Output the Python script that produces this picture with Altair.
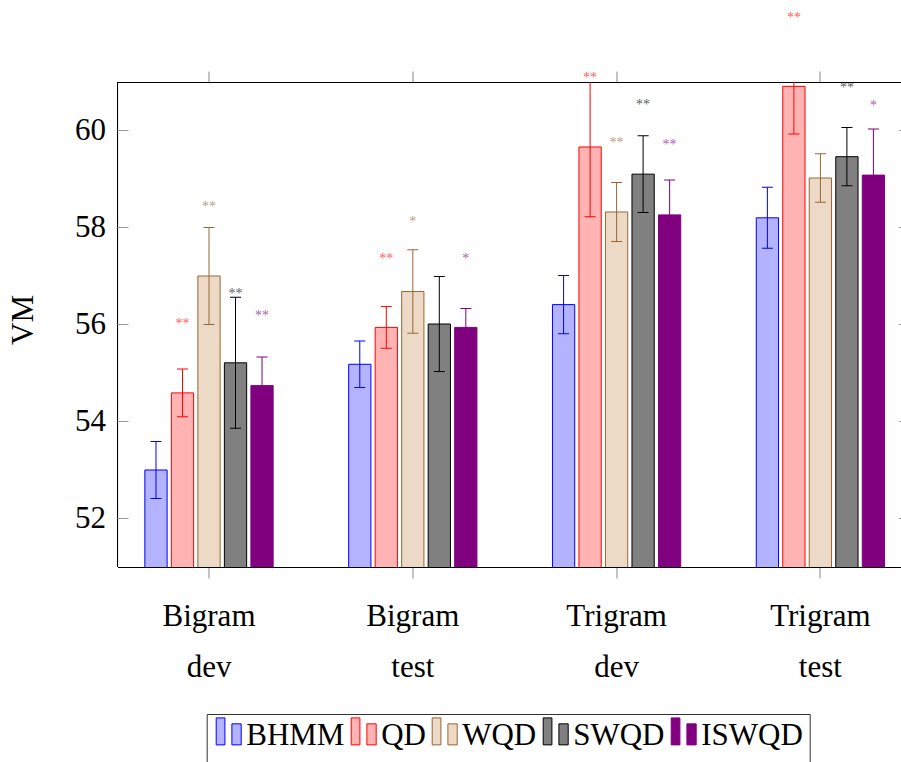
import altair as alt
import pandas as pd

# Category groups and methods
groups = ["Bigram dev", "Bigram test", "Trigram dev", "Trigram test"]
series = ["BHMM", "QD", "WQD", "SWQD", "ISWQD"]

# VM scores per method, one value per group
vm = {
    "BHMM":  [53.00, 55.18, 56.41, 58.20],
    "QD":    [54.59, 55.94, 59.66, 60.91],
    "WQD":   [57.00, 56.68, 58.32, 59.02],
    "SWQD":  [55.21, 56.01, 59.10, 59.46],
    "ISWQD": [54.74, 55.94, 58.26, 59.08],
}
# Half-width of the error bars
err = {
    "BHMM":  [0.59, 0.48, 0.60, 0.63],
    "QD":    [0.49, 0.43, 1.44, 0.98],
    "WQD":   [1.00, 0.86, 0.61, 0.50],
    "SWQD":  [1.35, 0.98, 0.79, 0.60],
    "ISWQD": [0.59, 0.39, 0.72, 0.95],
}
# Significance markers and the VM level at which each one sits
stars = {
    "BHMM":  ["", "", "", ""],
    "QD":    ["**", "**", "**", "**"],
    "WQD":   ["**", "*", "**", ""],
    "SWQD":  ["**", "", "**", "**"],
    "ISWQD": ["**", "*", "**", "*"],
}
star_level = {
    "BHMM":  [None, None, None, None],
    "QD":    [56.07, 57.41, 61.14, 62.37],
    "WQD":   [58.47, 58.16, 59.80, None],
    "SWQD":  [56.69, None, 60.57, 60.93],
    "ISWQD": [56.22, 57.41, 59.75, 60.55],
}
y_ticks = [52, 54, 56, 58, 60]
y_title = "VM"

rows, star_rows = [], []
for s in series:
    for i, g in enumerate(groups):
        v, e = vm[s][i], err[s][i]
        rows.append({"group": g, "series": s, "vm": v, "lo": v - e, "hi": v + e})
        if stars[s][i]:
            star_rows.append({"group": g, "series": s, "mark": stars[s][i],
                              "level": star_level[s][i]})
df = pd.DataFrame(rows)
df_stars = pd.DataFrame(star_rows)
df_ticks = pd.DataFrame({"t": y_ticks, "label": [str(t) for t in y_ticks]})
df_title = pd.DataFrame({"label": [y_title]})

fills = ["#b3b3ff", "#ffb3b3", "#ecd9c6", "#808080", "#800080"]
edges = ["#0000ff", "#ff0000", "#996633", "#000000", "#800080"]

FONT = "Liberation Serif"
W, H = 783.5, 485

x_scale = alt.Scale(paddingInner=0.3705, paddingOuter=0.1075, align=0.6244, round=False)
xo = alt.XOffset("series:N", sort=series,
                 scale=alt.Scale(paddingInner=0.16, paddingOuter=0))
y_scale = alt.Scale(domain=[51, 61], nice=False, zero=False)
fill_scale = alt.Scale(domain=series, range=fills)
stroke_scale = alt.Scale(domain=series, range=edges)
color_scale = alt.Scale(domain=series, range=edges)

# two-bar legend glyph
glyph = ("M-0.926,-1.36 H-0.28 V0.64 H-0.926 Z "
         "M0.237,-0.92 H0.926 V0.64 H0.237 Z")
legend = alt.Legend(
    title=" ", titleOrient="bottom", titleFontSize=12, titlePadding=0,
    orient="none", legendX=89.2, legendY=632, direction="horizontal",
    symbolType=glyph, symbolSize=729, symbolStrokeWidth=1,
    labelFont=FONT, labelFontSize=31, labelColor="black", labelOffset=2,
    labelLimit=300, columnPadding=3, padding=6.5,
    strokeColor="#333333", fillColor="white",
)

# left frame line with inward ticks, tick labels and the axis title
frame_left = alt.Chart(df_title).mark_rule(color="black", strokeWidth=1).encode(
    x=alt.value(0), y=alt.value(0), y2=alt.value(H),
)
ticks_left = alt.Chart(df_ticks).mark_rule(color="#999999", strokeWidth=1).encode(
    y=alt.Y("t:Q", scale=y_scale, axis=None),
    x=alt.value(0), x2=alt.value(11),
)
ticks_right = alt.Chart(df_ticks).mark_rule(color="#999999", strokeWidth=1).encode(
    y=alt.Y("t:Q", scale=y_scale, axis=None),
    x=alt.value(W - 2), x2=alt.value(W),
)
tick_labels = alt.Chart(df_ticks).mark_text(
    font=FONT, fontSize=31, color="black", align="right", baseline="middle"
).encode(
    y=alt.Y("t:Q", scale=y_scale, axis=None),
    x=alt.value(-11.5),
    text="label:N",
)
title_left = alt.Chart(df_title).mark_text(
    font=FONT, fontSize=31, color="black", angle=270, align="center",
    baseline="alphabetic"
).encode(
    x=alt.value(-84.5), y=alt.value(238), text="label:N",
)

bars = alt.Chart(df).mark_bar(strokeWidth=1, opacity=1, clip=True).encode(
    x=alt.X("group:N", sort=groups, scale=x_scale, title=None,
            axis=alt.Axis(orient="bottom", labelExpr="split(datum.label, ' ')",
                          labelFont=FONT, labelFontSize=31, labelColor="black",
                          labelLineHeight=51, labelPadding=23, labelAngle=0,
                          tickSize=11, tickColor="#888888", tickWidth=1,
                          domainColor="black", domainWidth=1)),
    xOffset=xo,
    y=alt.Y("vm:Q", scale=y_scale, axis=None),
    fill=alt.Fill("series:N", scale=fill_scale, sort=series, legend=legend),
    stroke=alt.Stroke("series:N", scale=stroke_scale, sort=series, legend=legend),
)

whisk = alt.Chart(df).mark_rule(strokeWidth=1, clip=True).encode(
    x=alt.X("group:N", sort=groups, scale=x_scale, title=None,
            axis=alt.Axis(orient="top", labels=False, tickSize=11,
                          tickColor="#888888", tickWidth=1,
                          domainColor="black", domainWidth=1)),
    xOffset=xo,
    y=alt.Y("lo:Q", scale=y_scale, axis=None),
    y2="hi:Q",
    stroke=alt.Stroke("series:N", scale=stroke_scale, sort=series, legend=legend),
)

cap_lo = alt.Chart(df).mark_tick(size=11, thickness=1, clip=True, opacity=1).encode(
    x=alt.X("group:N", sort=groups, scale=x_scale, axis=None),
    xOffset=xo,
    y=alt.Y("lo:Q", scale=y_scale, axis=None),
    color=alt.Color("series:N", scale=color_scale, sort=series, legend=None),
)
cap_hi = cap_lo.encode(y=alt.Y("hi:Q", scale=y_scale, axis=None))

star_text = alt.Chart(df_stars).mark_text(
    font=FONT, fontSize=14, baseline="alphabetic", dy=6.5, opacity=0.65
).encode(
    x=alt.X("group:N", sort=groups, scale=x_scale, axis=None),
    xOffset=xo,
    y=alt.Y("level:Q", scale=y_scale, axis=None),
    text="mark:N",
    color=alt.Color("series:N", scale=color_scale, sort=series, legend=None),
)

chart = alt.layer(
    frame_left, ticks_left, ticks_right, tick_labels, title_left,
    bars, whisk, cap_lo, cap_hi, star_text
).resolve_axis(x="independent").properties(
    width=W, height=H,
    autosize=alt.AutoSizeParams(type="none"),
    padding={"left": 117.5, "top": 82, "right": 0, "bottom": 195},
).configure_view(stroke=None).configure(background="white")

chart.save("out.html", embed_options={"renderer": "svg", "actions": False})
